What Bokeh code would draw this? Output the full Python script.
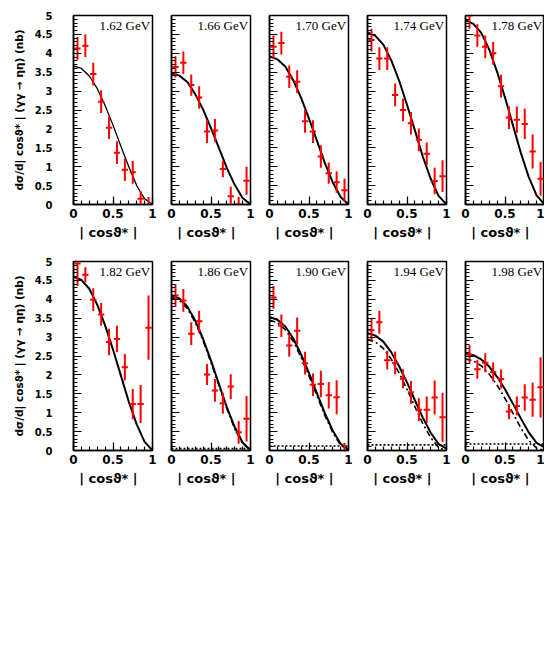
from bokeh.plotting import figure
from bokeh.layouts import column, row
from bokeh.models import FixedTicker, Label, Range1d, ColumnDataSource
from bokeh.embed import file_html
from bokeh.resources import INLINE

# ---------------- data ----------------
energies = ["1.62 GeV", "1.66 GeV", "1.70 GeV", "1.74 GeV", "1.78 GeV",
            "1.82 GeV", "1.86 GeV", "1.90 GeV", "1.94 GeV", "1.98 GeV"]

x_bins = [0.05, 0.15, 0.25, 0.35, 0.45, 0.55, 0.65, 0.75, 0.85, 0.95]

y_162 = [4.13, 4.20, 3.45, 2.72, 2.03, 1.37, 0.92, 0.85, 0.15, -0.25]
e_162 = [0.30, 0.30, 0.30, 0.30, 0.30, 0.30, 0.30, 0.30, 0.20, 0.45]
y_166 = [3.64, 3.75, 3.16, 2.83, 1.93, 1.96, 0.94, 0.22, 0.00, 0.63]
e_166 = [0.28, 0.30, 0.28, 0.30, 0.30, 0.30, 0.22, 0.25, 0.20, 0.37]
y_170 = [4.17, 4.27, 3.38, 3.25, 2.20, 1.93, 1.27, 0.83, 0.59, 0.38]
e_170 = [0.30, 0.30, 0.30, 0.30, 0.30, 0.30, 0.30, 0.28, 0.28, 0.30]
y_174 = [4.35, 3.86, 3.86, 2.90, 2.50, 2.15, 1.71, 1.34, 0.62, 0.75]
e_174 = [0.30, 0.30, 0.30, 0.30, 0.30, 0.30, 0.30, 0.30, 0.35, 0.42]
y_178 = [5.00, 4.47, 4.17, 4.00, 3.13, 2.30, 2.24, 2.13, 1.40, 0.68]
e_178 = [0.35, 0.30, 0.30, 0.30, 0.30, 0.30, 0.35, 0.40, 0.45, 0.45]
y_182 = [4.95, 4.65, 3.99, 3.60, 2.87, 2.95, 2.20, 1.23, 1.23, 3.25]
e_182 = [0.60, 0.20, 0.30, 0.30, 0.35, 0.35, 0.35, 0.40, 0.50, 0.85]
y_186 = [4.10, 3.97, 3.09, 3.42, 2.01, 1.59, 1.25, 1.69, 0.48, 0.84]
e_186 = [0.30, 0.30, 0.30, 0.28, 0.28, 0.30, 0.28, 0.33, 0.30, 0.60]
y_190 = [4.05, 3.30, 2.78, 3.17, 2.31, 1.74, 1.76, 1.46, 1.41, -0.30]
e_190 = [0.30, 0.30, 0.30, 0.35, 0.30, 0.30, 0.35, 0.35, 0.45, 0.50]
y_194 = [3.18, 3.39, 2.39, 2.32, 1.90, 1.54, 1.08, 1.08, 1.40, 0.88]
e_194 = [0.30, 0.30, 0.25, 0.30, 0.25, 0.30, 0.30, 0.35, 0.45, 0.65]
y_198 = [2.54, 2.15, 2.32, 2.08, 1.89, 1.03, 1.18, 1.40, 1.34, 1.67]
e_198 = [0.25, 0.25, 0.25, 0.25, 0.25, 0.20, 0.25, 0.35, 0.45, 0.80]

curve_x = [0.0, 0.1, 0.2, 0.3, 0.4, 0.5, 0.6, 0.7, 0.8, 0.9, 1.0]

fit_162 = [3.67, 3.60, 3.40, 3.07, 2.62, 2.10, 1.54, 1.00, 0.50, 0.15, 0.00]
fit_166 = [3.48, 3.41, 3.24, 2.92, 2.51, 2.02, 1.50, 0.97, 0.52, 0.17, 0.00]
fit_170 = [3.92, 3.84, 3.65, 3.29, 2.82, 2.27, 1.69, 1.10, 0.59, 0.20, 0.00]
fit_174 = [4.55, 4.46, 4.23, 3.82, 3.28, 2.64, 1.96, 1.27, 0.68, 0.23, 0.00]
fit_178 = [4.88, 4.78, 4.54, 4.10, 3.51, 2.83, 2.10, 1.37, 0.73, 0.24, 0.00]
fit_182 = [4.60, 4.51, 4.28, 3.86, 3.31, 2.67, 1.98, 1.29, 0.69, 0.23, 0.00]
fit_186 = [4.10, 4.02, 3.81, 3.44, 2.95, 2.38, 1.76, 1.15, 0.62, 0.21, 0.00]
fit_190 = [3.53, 3.46, 3.28, 2.97, 2.54, 2.05, 1.52, 0.99, 0.53, 0.18, 0.02]
fit_194 = [3.10, 3.04, 2.88, 2.60, 2.23, 1.80, 1.33, 0.87, 0.47, 0.17, 0.05]
fit_198 = [2.56, 2.52, 2.41, 2.22, 1.95, 1.62, 1.24, 0.85, 0.48, 0.20, 0.08]

alt_186 = [4.05, 3.97, 3.76, 3.39, 2.90, 2.33, 1.72, 1.11, 0.58, 0.18, 0.02]
alt_190 = [3.45, 3.38, 3.20, 2.89, 2.46, 1.97, 1.45, 0.93, 0.48, 0.14, 0.00]
alt_194 = [2.94, 2.87, 2.70, 2.42, 2.05, 1.62, 1.16, 0.71, 0.34, 0.08, 0.00]
alt_198 = [2.42, 2.37, 2.24, 2.02, 1.73, 1.38, 0.99, 0.60, 0.27, 0.06, 0.00]

bkg_186 = [0.05, 0.05]
bkg_190 = [0.12, 0.12]
bkg_194 = [0.15, 0.15]
bkg_198 = [0.17, 0.17]
bkg_x = [0.0, 1.0]

y_ticks = [0, 0.5, 1, 1.5, 2, 2.5, 3, 3.5, 4, 4.5, 5]
y_tick_labels = ["0", "0.5", "1", "1.5", "2", "2.5", "3", "3.5", "4", "4.5", "5"]
x_ticks = [0, 0.5, 1]
x_tick_labels = ["0", "0.5", "1"]

ys = [y_162, y_166, y_170, y_174, y_178, y_182, y_186, y_190, y_194, y_198]
es = [e_162, e_166, e_170, e_174, e_178, e_182, e_186, e_190, e_194, e_198]
fits = [fit_162, fit_166, fit_170, fit_174, fit_178, fit_182, fit_186, fit_190, fit_194, fit_198]
alts = [None, None, None, None, None, None, alt_186, alt_190, alt_194, alt_198]
bkgs = [None, None, None, None, None, None, bkg_186, bkg_190, bkg_194, bkg_198]

XHALF = 0.04
YLABEL = "d\u03c3/d| cos\u03d1* | (\u03b3\u03b3 \u2192 \u03b7\u03b7) (nb)"
XLABEL = "|  cos\u03d1*  |"


def make_panel(i):
    col = i % 5
    first = col == 0
    last = col == 4
    top_row = i < 5
    p = figure(frame_width=79, frame_height=189,
               x_range=Range1d(0, 1), y_range=Range1d(0, 5),
               output_backend="svg", toolbar_location=None,
               min_border_left=73 if first else 10,
               min_border_right=0 if last else 9,
               min_border_top=15 if top_row else 7, min_border_bottom=50)
    p.grid.visible = False
    p.outline_line_color = "black"
    p.outline_line_width = 1.5
    p.background_fill_color = "white"
    p.border_fill_color = "white"

    minor_y = [k / 10 for k in range(0, 51)]
    p.yaxis.ticker = FixedTicker(ticks=y_ticks, minor_ticks=minor_y)
    p.xaxis.ticker = FixedTicker(ticks=x_ticks, minor_ticks=[k / 10 for k in range(0, 11)])
    for ax in (p.xaxis, p.yaxis):
        ax.axis_line_color = "black"
        ax.axis_line_width = 1.5
        ax.major_tick_in = 8
        ax.major_tick_out = 0
        ax.minor_tick_in = 4
        ax.minor_tick_out = 0
        ax.major_tick_line_width = 1.2
        ax.minor_tick_line_width = 1.2
        ax.major_label_text_font = "DejaVu Sans"
        ax.major_label_text_font_style = "bold"
        ax.axis_label_text_font = "DejaVu Sans"
        ax.axis_label_text_font_style = "bold"
        ax.major_label_text_color = "black"
        ax.axis_label_text_color = "black"

    p.xaxis.major_label_overrides = {t: s for t, s in zip(x_ticks, x_tick_labels)}
    p.xaxis.major_label_text_font_size = "12px"
    p.xaxis.major_label_standoff = 4
    p.xaxis.axis_label = XLABEL
    p.xaxis.axis_label_text_font_size = "13px"
    p.xaxis.axis_label_standoff = 4

    if first:
        p.yaxis.major_label_overrides = {t: s for t, s in zip(y_ticks, y_tick_labels)}
        p.yaxis.major_label_text_font_size = "10px"
        p.yaxis.major_label_standoff = 21
        p.yaxis.axis_label = YLABEL
        p.yaxis.axis_label_text_font_size = "10.5px"
        p.yaxis.axis_label_standoff = 7
    else:
        p.yaxis.major_label_overrides = {t: "" for t in y_ticks}
        p.yaxis.major_label_text_font_size = "1px"
        p.yaxis.major_label_standoff = 0

    # curves
    if bkgs[i] is not None:
        p.line(bkg_x, bkgs[i], line_color="black", line_width=1.6, line_dash="2 2")
    if alts[i] is not None:
        p.line(curve_x, alts[i], line_color="black", line_width=1.6, line_dash="6 3 2 3")
    p.line(curve_x, fits[i], line_color="black", line_width=1.3 if i == 0 else 2)

    # data with error crosses
    y = ys[i]
    e = es[i]
    src = ColumnDataSource(dict(
        x=x_bins, y=y,
        x0=[v - XHALF for v in x_bins], x1=[v + XHALF for v in x_bins],
        ylo=[a - b for a, b in zip(y, e)], yhi=[a + b for a, b in zip(y, e)]))
    p.segment(x0="x", y0="ylo", x1="x", y1="yhi", source=src, line_color="red", line_width=2)
    p.segment(x0="x0", y0="y", x1="x1", y1="y", source=src, line_color="red", line_width=2)

    p.add_layout(Label(x=0.97, y=4.93, text=energies[i], text_align="right",
                       text_baseline="top", text_font="Liberation Serif",
                       text_font_size="13px", text_color="black"))
    return p


panels = [make_panel(i) for i in range(10)]
layout = column(row(*panels[:5], spacing=0), row(*panels[5:], spacing=0), spacing=0)

open("out.html", "w").write(file_html(layout, INLINE))
